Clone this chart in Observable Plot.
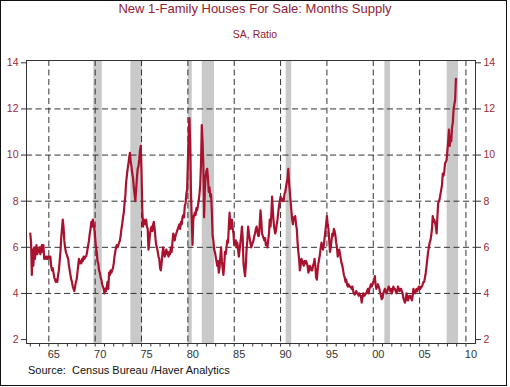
<!DOCTYPE html>
<html><head><meta charset="utf-8">
<script src="https://cdn.jsdelivr.net/npm/d3@7"></script>
<script src="https://cdn.jsdelivr.net/npm/@observablehq/plot@0.6"></script>
<style>
body{margin:0;background:#fff;font-family:"Liberation Sans",Arial,sans-serif;}
#wrap{position:relative;width:510px;height:387px;overflow:hidden;background:#fff;}
#border{position:absolute;left:0;top:0;width:507px;height:386px;border:1px solid #111;box-sizing:border-box;pointer-events:none;}
.t{position:absolute;left:0;width:510px;text-align:center;white-space:nowrap;}
#title{top:2px;font-size:13px;line-height:13px;color:#922035;}
#sub{top:28.6px;font-size:10.5px;line-height:10.5px;color:#922035;}
#src{position:absolute;left:28px;top:364.5px;font-size:11px;line-height:11px;color:#111;white-space:pre;}
#chart{position:absolute;left:0;top:50px;}
</style></head>
<body>
<div id="wrap">
<div class="t" id="title">New 1-Family Houses For Sale: Months Supply</div>
<div class="t" id="sub">SA, Ratio</div>
<div id="chart"></div>
<div id="src">Source:  Census Bureau /Haver Analytics</div>
<div id="border"></div>
</div>
<script>
const startYear = 1963; // monthly values from Jan 1963
const supply = [
 6.6,6.2,4.8,5.9,5.2,6.0,5.5,5.8,6.1,5.7,5.9,5.8,
 6.0,5.7,5.9,6.1,5.8,6.1,5.5,5.6,5.5,5.6,5.5,5.6,
 5.6,5.5,5.6,5.2,5.0,5.1,4.9,4.7,4.6,4.5,4.6,4.5,
 4.8,5.0,5.4,5.8,6.4,6.8,7.2,6.9,6.3,6.0,5.8,5.7,
 5.6,5.5,5.2,5.0,4.8,4.6,4.5,4.3,4.2,4.1,4.3,4.5,
 4.6,4.9,5.2,5.5,5.3,5.4,5.3,5.5,5.4,5.6,5.5,5.6,
 5.6,5.7,5.9,6.1,6.3,6.6,6.8,7.1,6.9,7.2,7.0,6.8,
 6.4,6.0,5.8,5.4,5.3,5.0,4.9,4.7,4.6,4.4,4.3,4.2,
 4.0,4.2,4.1,4.3,4.5,4.2,4.9,4.8,5.0,4.9,5.0,5.1,
 5.3,5.6,5.8,6.0,6.1,6.0,6.1,6.2,6.3,6.5,6.8,7.0,
 7.3,7.5,7.9,8.2,8.8,9.1,9.4,9.6,9.9,10.1,9.7,9.5,
 9.2,9.0,8.6,8.3,8.0,8.5,9.0,9.4,9.5,9.8,10.2,10.4,
 9.3,7.6,6.9,7.2,7.1,7.0,7.2,6.9,6.8,5.9,6.2,6.6,
 6.8,6.9,6.7,7.0,7.1,6.8,6.4,6.1,6.0,5.8,5.6,5.5,
 5.1,5.0,5.3,5.7,6.0,5.8,5.6,5.7,5.9,5.8,5.7,5.6,
 5.8,5.7,6.0,5.8,6.2,6.6,6.5,6.3,6.5,6.6,6.7,6.8,
 6.9,7.0,6.8,7.1,7.0,7.3,7.4,7.3,7.8,7.9,8.3,8.5,
 9.7,10.8,11.6,10.4,8.4,7.2,6.1,7.2,7.4,7.5,7.4,7.7,
 7.6,7.8,8.0,8.3,8.7,9.6,11.3,10.6,9.6,7.3,8.5,9.1,
 9.3,9.4,9.0,8.4,8.6,8.2,8.3,7.6,6.5,6.3,5.9,5.8,
 5.6,5.4,5.2,5.4,4.9,5.1,5.6,6.0,5.4,5.1,4.8,5.2,
 5.8,5.7,6.0,6.3,6.2,6.9,7.5,6.8,6.9,7.2,6.8,6.6,
 6.1,6.2,6.3,6.0,6.2,5.9,5.6,5.9,6.2,6.5,6.9,6.4,
 5.3,5.0,4.75,5.2,5.9,6.3,6.9,6.6,6.4,6.2,6.0,6.1,
 6.2,6.3,6.5,6.6,6.8,6.9,6.7,6.5,6.5,7.0,7.6,7.2,
 6.6,6.5,6.4,6.3,6.4,6.1,6.2,6.0,6.3,6.6,7.2,6.9,
 7.4,8.2,7.6,7.1,6.8,6.6,6.7,7.0,7.2,7.5,7.8,8.0,
 8.2,8.1,8.0,8.1,8.0,8.3,8.4,8.6,8.8,9.0,9.4,8.8,
 8.4,8.0,7.6,7.2,7.0,7.3,7.2,7.35,7.0,6.8,6.2,5.8,
 5.5,5.0,5.2,5.5,5.4,5.3,5.2,5.4,5.3,5.4,5.3,5.2,
 4.9,5.0,5.2,5.1,5.0,5.0,5.2,5.3,5.5,5.2,4.7,4.6,
 5.0,5.3,5.5,5.7,6.0,6.2,6.0,5.9,6.1,6.4,6.7,7.0,
 7.35,7.0,6.8,6.3,5.8,6.0,6.3,6.6,6.5,6.8,6.7,6.5,
 6.2,6.0,5.6,5.8,5.9,5.7,5.5,5.3,5.2,5.0,4.8,4.7,
 4.5,4.6,4.4,4.3,4.4,4.3,4.3,4.3,4.2,4.3,4.1,4.0,
 3.95,4.0,4.1,4.0,4.0,3.9,4.0,3.9,3.9,3.6,3.8,4.0,
 3.9,3.9,4.0,4.0,4.1,4.2,4.0,4.2,4.3,4.4,4.3,4.4,
 4.5,4.5,4.75,4.4,4.2,4.3,4.4,4.3,4.2,4.0,3.9,3.75,
 3.8,4.0,4.1,4.2,4.1,4.0,4.1,4.2,4.3,4.2,4.1,4.2,
 4.0,4.1,4.3,4.2,4.2,4.1,4.0,4.1,4.3,4.2,4.1,4.2,
 4.2,4.1,4.0,3.8,3.7,3.6,3.7,4.0,3.9,3.7,3.8,3.9,
 3.9,3.8,3.7,3.9,4.2,4.1,4.0,4.1,4.2,4.1,4.2,4.3,
 4.3,4.2,4.3,4.3,4.4,4.5,4.5,4.7,4.9,5.2,5.5,5.8,
 6.0,6.2,6.3,6.5,6.8,7.35,7.1,7.2,7.06,6.9,6.6,7.3,
 7.9,8.0,8.1,8.3,8.5,8.7,9.2,9.1,9.3,9.66,9.7,9.8,
 10.2,10.6,11.1,10.4,10.8,10.6,11.2,11.4,12.0,12.2,12.4,13.3
];
const recStart = [1969.85, 1973.85, 1980.04, 1981.55, 1990.6, 2001.25, 2007.97];
const recEnd   = [1970.76, 1975.08, 1980.47, 1982.87, 1991.2, 2001.86, 2009.2];
const yTicks = [2, 4, 6, 8, 10, 12, 14];
const yGrid = [4, 6, 8, 10, 12];
const xMajor = [1965, 1970, 1975, 1980, 1985, 1990, 1995, 2000, 2005, 2010];
const xLabels = ["65", "70", "75", "80", "85", "90", "95", "00", "05", "10"];
const xMinor = d3.range(1963, 2011);

const data = supply.map((v, i) => ({t: startYear + i / 12, v}));
const recessions = recStart.map((s, i) => ({s, e: recEnd[i]}));
const labelOf = new Map(xMajor.map((d, i) => [d, xLabels[i]]));

const red = "#9b2a3a";
const dash = "6,3.5";
const chart = Plot.plot({
  width: 510, height: 312,
  marginLeft: 26, marginRight: 35, marginTop: 10, marginBottom: 19,
  style: {fontFamily: "'Liberation Sans', Arial, sans-serif", background: "#fff", overflow: "visible"},
  x: {domain: [1962.59, 2011.03], axis: null},
  y: {domain: [1.83, 14.1], axis: null},
  marks: [
    Plot.rect(recessions, {x1: "s", x2: "e", fill: "#c9c9c9"}),
    Plot.ruleY(yGrid, {stroke: "#333", strokeDasharray: dash, strokeWidth: 1}),
    Plot.ruleX(xMajor, {stroke: "#333", strokeDasharray: dash, strokeWidth: 1}),
    Plot.line(data, {x: "t", y: "v", stroke: "#a8122f", strokeWidth: 2.2}),
    Plot.frame({stroke: "#333", strokeWidth: 1}),
    Plot.axisY(yTicks, {anchor: "left", label: null, tickSize: 5, tickPadding: 3, stroke: "#333", fill: red, fontSize: 10.5}),
    Plot.axisY(yTicks, {anchor: "right", label: null, tickSize: 5, tickPadding: 3, stroke: "#333", fill: red, fontSize: 10.5}),
    Plot.axisX(xMinor, {anchor: "bottom", label: null, tickSize: 3.5, stroke: "#333", tickFormat: () => ""}),
    Plot.axisX(xMajor, {anchor: "bottom", label: null, tickSize: 0, tickPadding: 7, dx: 5, fill: "#333", fontSize: 11, tickFormat: d => labelOf.get(d)})
  ]
});
document.getElementById("chart").appendChild(chart);
</script>
</body></html>
